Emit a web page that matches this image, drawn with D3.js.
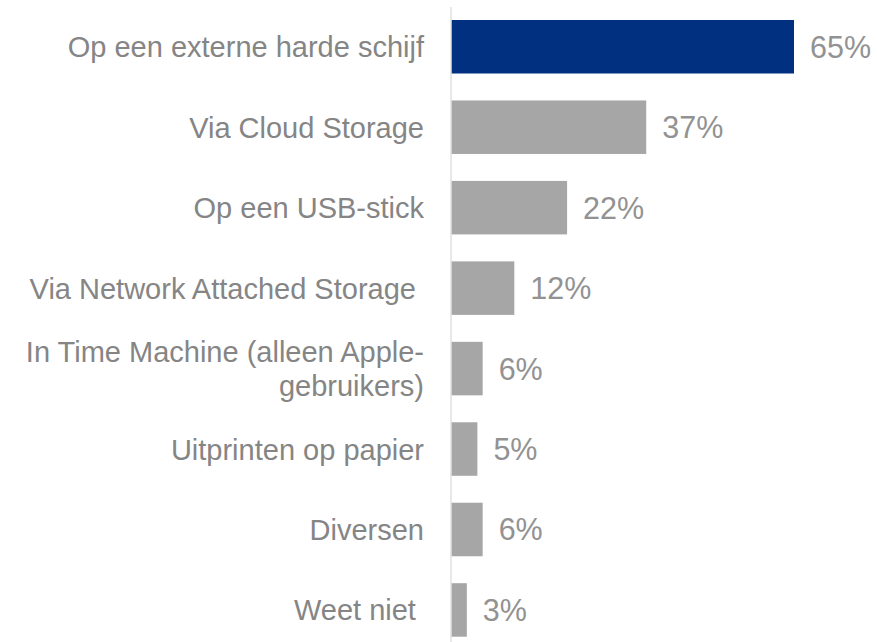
<!DOCTYPE html>
<html>
<head>
<meta charset="utf-8">
<script src="https://cdn.jsdelivr.net/npm/d3@7/dist/d3.min.js"></script>
<style>
  html, body { margin: 0; padding: 0; background: #ffffff; }
  svg { display: block; }
  text { font-family: Arial, "Liberation Sans", sans-serif; white-space: pre; }
</style>
</head>
<body>
<svg id="chart" width="877" height="642"></svg>
<script>
// ---- data ----
const categories = [
  "Op een externe harde schijf",
  "Via Cloud Storage",
  "Op een USB-stick",
  "Via Network Attached Storage ",
  "In Time Machine (alleen Apple-\ngebruikers)",
  "Uitprinten op papier",
  "Diversen",
  "Weet niet "
];
const values = [65, 37, 22, 12, 6, 5, 6, 3];
const highlight = [true, false, false, false, false, false, false, false];

// ---- layout ----
const svg = d3.select("#chart");
const W = 877, H = 642;
const axisX = 451;

const x = d3.scaleLinear().domain([0, 65]).range([axisX, 794]);
const y = d3.scaleBand().domain(categories).range([20, 636.7]).paddingInner(0.335).paddingOuter(0);

const data = categories.map((c, i) => ({ cat: c, value: values[i], hi: highlight[i] }));

// bars
svg.append("g").selectAll("rect").data(data).join("rect")
  .attr("x", x(0))
  .attr("y", d => y(d.cat))
  .attr("width", d => x(d.value) - x(0))
  .attr("height", y.bandwidth())
  .attr("fill", d => d.hi ? "#00307f" : "#a6a6a6");

// vertical axis line
svg.append("line")
  .attr("x1", axisX).attr("x2", axisX)
  .attr("y1", 7).attr("y2", H)
  .attr("stroke", "#e0e0e0").attr("stroke-width", 1.5);

// value labels
svg.append("g").selectAll("text").data(data).join("text")
  .attr("x", d => x(d.value) + 16)
  .attr("y", d => y(d.cat) + y.bandwidth() / 2 + 11)
  .attr("font-size", "30.5px")
  .attr("fill", "#929292")
  .text(d => d.value + "%");

// category labels
const lineH = 33.3;
const labels = svg.append("g").selectAll("text").data(data).join("text")
  .attr("text-anchor", "end")
  .attr("font-size", "29px")
  .attr("fill", "#858585")
  .attr("xml:space", "preserve");
labels.each(function(d) {
  const lines = d.cat.split("\n");
  const cy = y(d.cat) + y.bandwidth() / 2;
  const t = d3.select(this);
  lines.forEach((ln, k) => {
    t.append("tspan")
      .attr("x", 424)
      .attr("y", cy + 10.5 + (k - (lines.length - 1) / 2) * lineH)
      .text(ln);
  });
});
</script>
</body>
</html>
